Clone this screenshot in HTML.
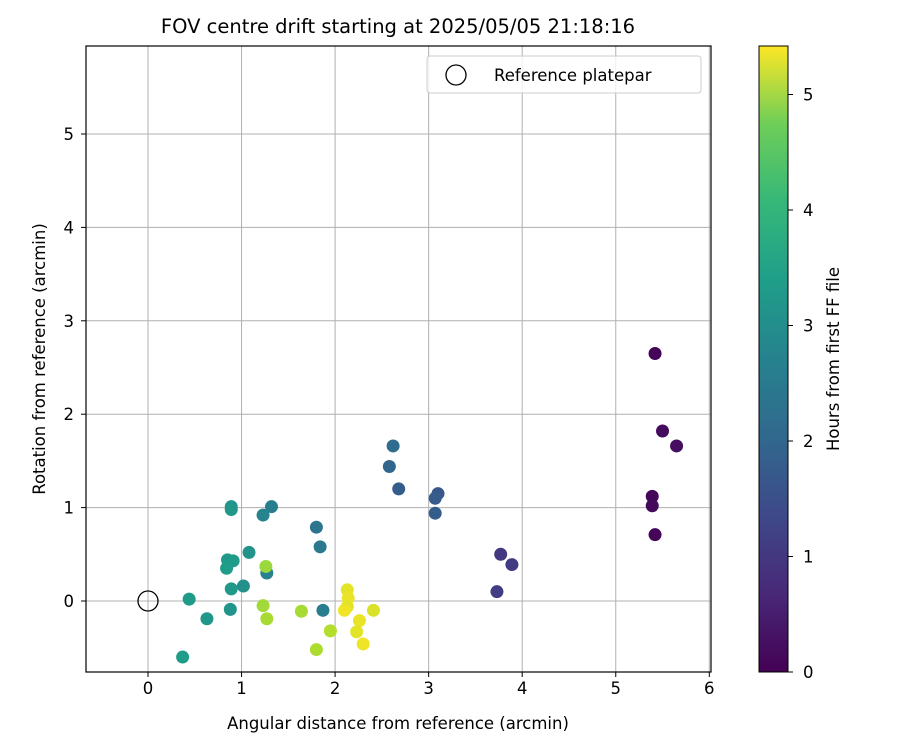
<!DOCTYPE html>
<html><head><meta charset="utf-8"><style>
body{margin:0;background:#fff;font-family:"Liberation Sans","DejaVu Sans",sans-serif}
svg text{font-family:"DejaVu Sans","Liberation Sans",sans-serif;fill:#000}
</style></head><body>
<svg id="c" width="900" height="750" xmlns="http://www.w3.org/2000/svg">
<defs><linearGradient id="vg" x1="0" y1="1" x2="0" y2="0">
<stop offset="0" stop-color="#440154"/><stop offset="0.125" stop-color="#482878"/><stop offset="0.25" stop-color="#3e4989"/><stop offset="0.375" stop-color="#31688e"/><stop offset="0.5" stop-color="#26828e"/><stop offset="0.625" stop-color="#1f9e89"/><stop offset="0.75" stop-color="#35b779"/><stop offset="0.875" stop-color="#6ece58"/><stop offset="1" stop-color="#fde725"/></linearGradient></defs>
<text x="398" y="33" font-size="19.5" text-anchor="middle">FOV centre drift starting at 2025/05/05 21:18:16</text>
<g id="grid"></g><g id="pts"></g>
<rect x="86" y="46" width="625" height="626" fill="none" stroke="#000" stroke-width="1.2"/>
<g id="ticks"></g>
<text x="398" y="729" font-size="16.5" text-anchor="middle">Angular distance from reference (arcmin)</text>
<text transform="translate(45,359) rotate(-90)" font-size="16.5" text-anchor="middle">Rotation from reference (arcmin)</text>
<g>
<rect x="427" y="56" width="274" height="37" rx="3" fill="#fff" fill-opacity="0.8" stroke="#ccc"/>
<circle cx="456" cy="75" r="10" fill="none" stroke="#000" stroke-width="1.3"/>
<text x="494" y="81" font-size="16.5">Reference platepar</text></g>
<rect x="759" y="46" width="29" height="626" fill="url(#vg)" stroke="#000" stroke-width="1"/>
<g id="cbt"></g>
<text transform="translate(839,359) rotate(-90)" font-size="16.5" text-anchor="middle">Hours from first FF file</text>
</svg>
<script>
const xs=[5.42,5.5,5.65,5.39,5.39,5.42,3.77,3.89,3.73,3.1,3.07,3.07,2.68,2.62,2.58,1.80,1.84,1.87,1.27,1.32,1.23,0.89,0.89,0.85,0.91,0.84,1.08,1.02,0.89,0.88,0.44,0.63,0.37,1.26,1.23,1.27,1.64,1.80,1.95,2.13,2.14,2.13,2.10,2.26,2.23,2.30,2.41];
const ys=[2.65,1.82,1.66,1.12,1.02,0.71,0.5,0.39,0.1,1.15,1.1,0.94,1.2,1.66,1.44,0.79,0.58,-0.1,0.3,1.01,0.92,1.01,0.98,0.44,0.43,0.35,0.52,0.16,0.13,-0.09,0.02,-0.19,-0.6,0.37,-0.05,-0.19,-0.11,-0.52,-0.32,0.12,0.03,-0.06,-0.1,-0.21,-0.33,-0.46,-0.1];
const hours=[0.05,0.15,0.2,0.1,0.12,0.08,0.9,0.95,1.0,1.5,1.55,1.6,1.6,1.9,1.75,2.1,2.2,2.3,2.4,2.35,2.45,2.8,2.85,2.9,2.95,3.0,2.75,2.7,2.9,2.8,2.95,2.85,3.0,4.6,4.65,4.7,4.7,4.75,4.8,5.2,5.25,5.2,5.3,5.25,5.2,5.3,5.1];
const xTicks=[0,1,2,3,4,5,6], yTicks=[0,1,2,3,4,5], cTicks=[0,1,2,3,4,5];
const X=v=>148+v*93.55, Y=v=>601-v*93.4, C=v=>672-v*115.5;
const vir=[[68,1,84],[72,40,120],[62,73,137],[49,104,142],[38,130,142],[31,158,137],[53,183,121],[110,206,88],[181,222,43],[253,231,37]];
function col(h){let t=Math.max(0,Math.min(1,h/5.42))*(vir.length-1),i=Math.min(Math.floor(t),vir.length-2),f=t-i;return 'rgb('+vir[i].map((a,k)=>Math.round(a+(vir[i+1][k]-a)*f)).join(',')+')';}
const NS='http://www.w3.org/2000/svg';
function mk(p,t,a){const e=document.createElementNS(NS,t);for(const k in a)e.setAttribute(k,a[k]);document.getElementById(p).appendChild(e);return e;}
xTicks.forEach(v=>{const l=mk('grid','line',{x1:X(v),x2:X(v),y1:46,y2:672,stroke:'#b0b0b0','stroke-width':1});


const t=mk('ticks','text',{x:X(v),y:694,'font-size':16.5,'text-anchor':'middle'});t.textContent=v;


mk('ticks','line',{x1:X(v),x2:X(v),y1:672,y2:677,stroke:'#000'});});
yTicks.forEach(v=>{const l=mk('grid','line',{x1:86,x2:711,y1:Y(v),y2:Y(v),stroke:'#b0b0b0','stroke-width':1});


const t=mk('ticks','text',{x:74,y:Y(v)+6,'font-size':16.5,'text-anchor':'end'});t.textContent=v;


mk('ticks','line',{x1:81,x2:86,y1:Y(v),y2:Y(v),stroke:'#000'});});
cTicks.forEach(v=>{mk('cbt','line',{x1:788,x2:793,y1:C(v),y2:C(v),stroke:'#000'});
const t=mk('cbt','text',{x:803,y:C(v)+6,'font-size':16.5});t.textContent=v;

});
xs.forEach((x,i)=>{const c=mk('pts','circle',{cx:X(x),cy:Y(ys[i]),r:6.5,fill:col(hours[i])});

});
const r=mk('pts','circle',{cx:X(0),cy:Y(0),r:10,fill:'none',stroke:'#000','stroke-width':1.3});


</script>
</body></html>
